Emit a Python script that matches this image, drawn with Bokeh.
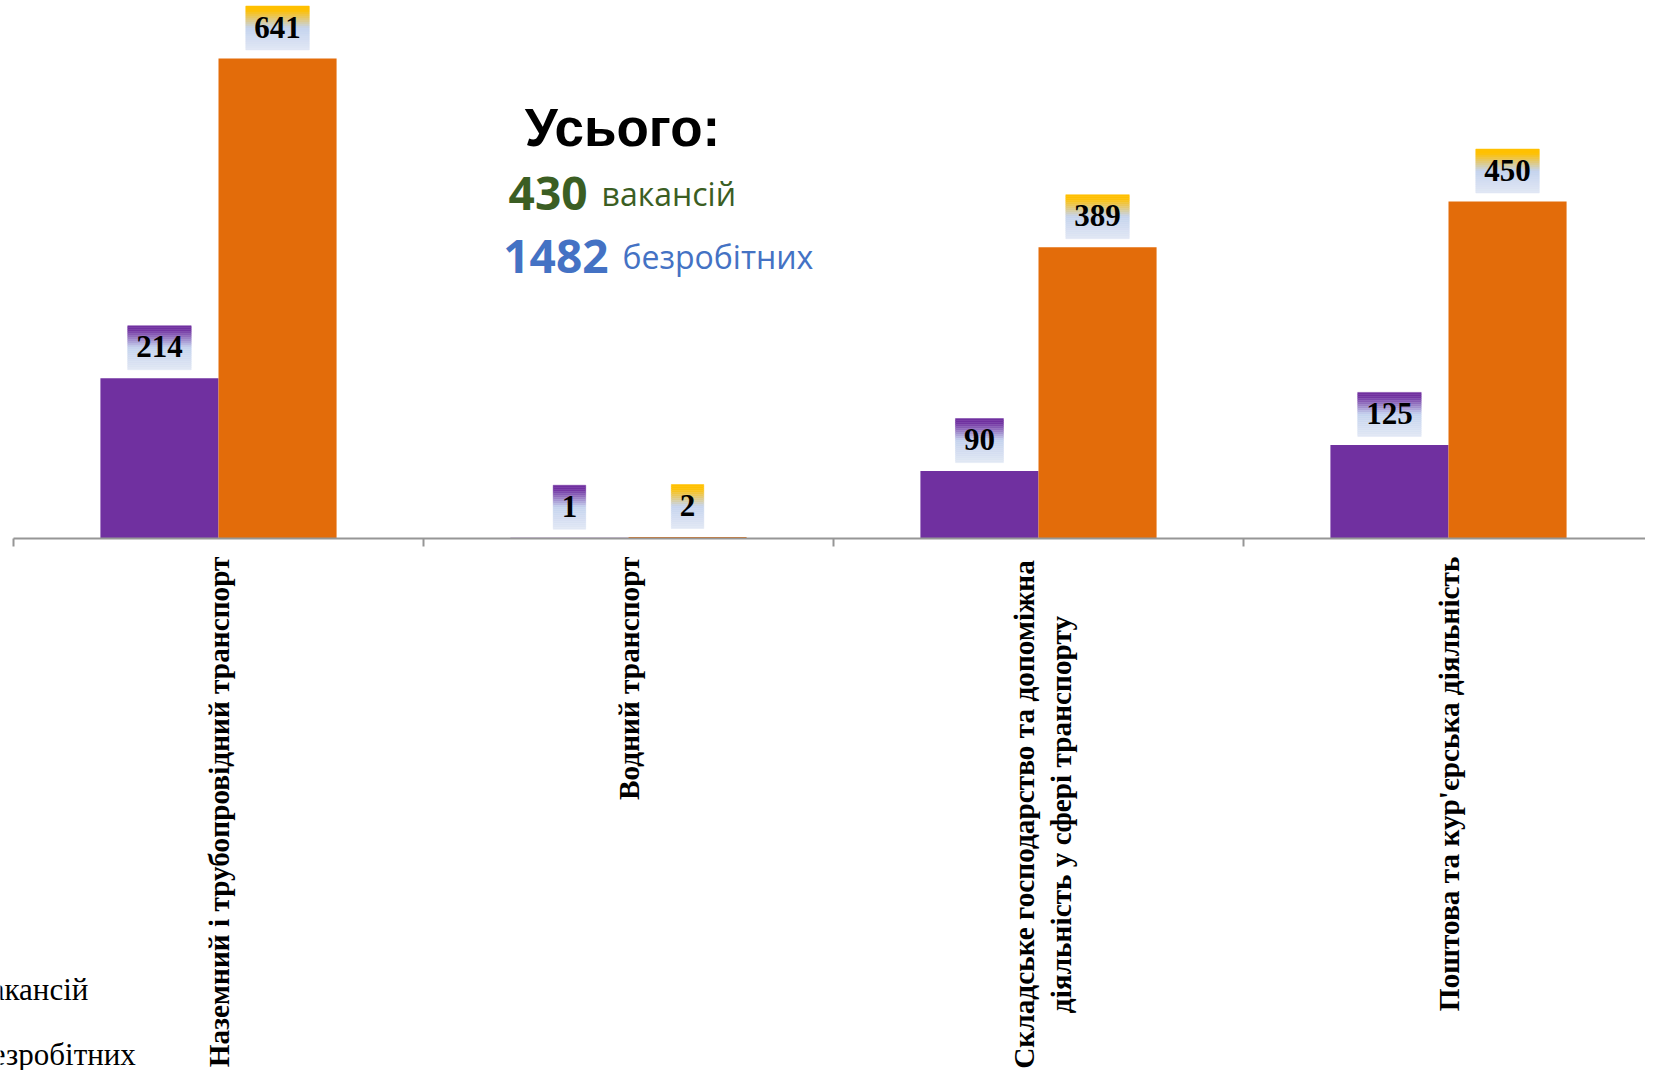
import math
from bokeh.plotting import figure
from bokeh.models import Range1d, Label
from bokeh.core.properties import value
from bokeh.embed import file_html
from bokeh.resources import INLINE

# ---- data ----
categories = [
    "Наземний і трубопровідний транспорт",
    "Водний транспорт",
    "Складське господарство та допоміжна\nдіяльність у сфері транспорту",
    "Поштова та кур'єрська діяльність",
]
vacancies = [214, 1, 90, 125]
unemployed = [641, 2, 389, 450]
series_names = ["вакансій", "безробітних"]
total_vacancies = 430
total_unemployed = 1482

# ---- style / geometry ----
PURPLE = "#7030A0"
ORANGE = "#E36C0A"
GOLD = "#FFC000"
AXIS_GRAY = "#969696"
W, H = 1645, 1070
PPU_X = 410.0          # px per category
PPU_Y = 0.7488         # px per unit
X0_PX, Y0_PX = 13, 538  # where the category axis starts / baseline (px from top-left)
BAR_W = 0.288
LABEL_FS = 29.3
MULTI_CENTER_PX = 276   # centre of the two-line label block below the axis

x_start = -X0_PX / PPU_X
x_end = (W - X0_PX) / PPU_X
y_end = Y0_PX / PPU_Y
y_start = -(H - Y0_PX) / PPU_Y

p = figure(width=W, height=H, output_backend="svg", toolbar_location=None,
           x_range=Range1d(x_start, x_end), y_range=Range1d(y_start, y_end),
           min_border=0)
p.outline_line_color = None
p.grid.visible = False
p.axis.visible = False
p.background_fill_color = "white"
p.border_fill_color = "white"

n = len(categories)
centers = [i + 0.5 for i in range(n)]
xv = [c - BAR_W / 2 for c in centers]
xu = [c + BAR_W / 2 for c in centers]

r1 = p.vbar(x=xv, top=vacancies, width=BAR_W, fill_color=PURPLE, line_color=None)
r2 = p.vbar(x=xu, top=unemployed, width=BAR_W, fill_color=ORANGE, line_color=None)

# ---- category axis (line at 0, tick marks between categories, rotated labels) ----
p.segment(x0=[0], x1=[x_end], y0=[0], y1=[0], line_color=AXIS_GRAY, line_width=2)
bounds = list(range(n + 1))
p.segment(x0=bounds, x1=bounds, y0=[0] * len(bounds), y1=[-8 / PPU_Y] * len(bounds),
          line_color=AXIS_GRAY, line_width=2)

single = [(c, t) for c, t in zip(centers, categories) if "\n" not in t]
multi = [(c, t) for c, t in zip(centers, categories) if "\n" in t]
p.text(x=[c for c, _ in single], y=[0] * len(single), text=[t for _, t in single],
       angle=math.pi / 2, text_align="right", text_baseline="middle", y_offset=18,
       text_font=value("Liberation Serif"), text_font_style="bold",
       text_font_size=f"{LABEL_FS}px", text_color="black")
p.text(x=[c for c, _ in multi], y=[0] * len(multi), text=[t for _, t in multi],
       angle=math.pi / 2, text_align="center", text_baseline="middle",
       x_offset=4, y_offset=MULTI_CENTER_PX, text_line_height=1.15,
       text_font=value("Liberation Serif"), text_font_style="bold",
       text_font_size=f"{LABEL_FS}px", text_color="black")


# ---- gradient data-label boxes ----
def mix(c1, c2, t):
    a = [int(c1[i:i + 2], 16) for i in (1, 3, 5)]
    b = [int(c2[i:i + 2], 16) for i in (1, 3, 5)]
    return "#%02x%02x%02x" % tuple(round(a[k] + (b[k] - a[k]) * t) for k in range(3))


LB1, LB2 = "#C5D3EE", "#E0E7F4"
GAP, BOX_H, BAND = 8.5, 44, 2


def add_boxes(xs, vals, top_color):
    for x, v in zip(xs, vals):
        nd = len(str(v))
        half = (nd * 15.5 + 17) / 2 / PPU_X
        lefts, rights, tops, bottoms, colors = [], [], [], [], []
        nb = int(BOX_H / BAND)
        for k in range(nb):
            t = k / (nb - 1)  # 0 at top
            if t < 0.08:
                c = top_color
            elif t < 0.5:
                c = mix(top_color, LB1, (t - 0.08) / 0.42)
            else:
                c = mix(LB1, LB2, (t - 0.5) / 0.5)
            top_px = GAP + BOX_H - k * BAND
            lefts.append(x - half)
            rights.append(x + half)
            tops.append(v + top_px / PPU_Y)
            bottoms.append(v + (top_px - BAND) / PPU_Y)
            colors.append(c)
        p.quad(left=lefts, right=rights, top=tops, bottom=bottoms,
               fill_color=colors, line_color=colors, line_width=0.5)
    p.text(x=xs, y=vals, text=[str(v) for v in vals], text_align="center",
           text_baseline="middle", y_offset=-(GAP + BOX_H / 2 + 1),
           text_font=value("Liberation Serif"), text_font_style="bold",
           text_font_size="31px", text_color="black")


add_boxes(xv, vacancies, PURPLE)
add_boxes(xu, unemployed, GOLD)


# ---- totals text ----
def yd(px_y, fs=0):
    return (Y0_PX - (px_y - 0.39 * fs)) / PPU_Y


def xd(px_x):
    return (px_x - X0_PX) / PPU_X


p.add_layout(Label(x=xd(622), y=yd(148, 53), text="Усього:", text_align="center",
                   text_baseline="alphabetic", text_font="Liberation Sans",
                   text_font_style="bold", text_font_size="53px", text_color="black"))
p.add_layout(Label(x=xd(587), y=yd(211, 46), text=str(total_vacancies), text_align="right",
                   text_baseline="alphabetic", text_font="Open Sans",
                   text_font_style="bold", text_font_size="46px", text_color="#3B5E23"))
p.add_layout(Label(x=xd(601), y=yd(211, 46), text=series_names[0], text_align="left",
                   text_baseline="alphabetic", text_font="Open Sans",
                   text_font_size="32px", text_color="#3B5E23"))
p.add_layout(Label(x=xd(608), y=yd(274, 46), text=str(total_unemployed), text_align="right",
                   text_baseline="alphabetic", text_font="Open Sans",
                   text_font_style="bold", text_font_size="46px", text_color="#4472C4"))
p.add_layout(Label(x=xd(622), y=yd(274, 46), text=series_names[1], text_align="left",
                   text_baseline="alphabetic", text_font="Open Sans",
                   text_font_size="32px", text_color="#4472C4"))

# ---- legend entries (mostly off the left edge, as in the reference) ----
for name, py in zip(series_names, [989, 1054]):
    p.add_layout(Label(x=xd(-24), y=(Y0_PX - py) / PPU_Y, text=name,
                       text_align="left", text_baseline="middle",
                       text_font="Liberation Serif", text_font_size="31px",
                       text_color="black"))

open("out.html", "w").write(file_html(p, INLINE))
